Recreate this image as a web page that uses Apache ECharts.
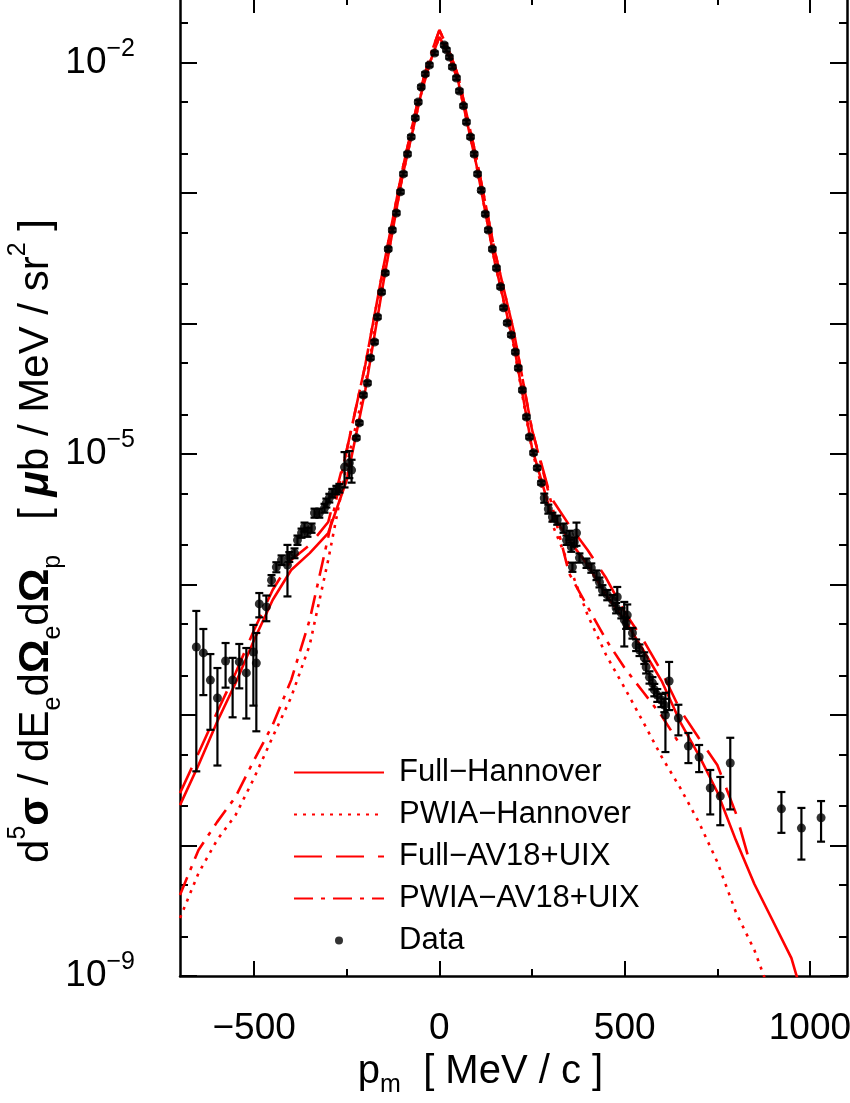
<!DOCTYPE html>
<html><head><meta charset="utf-8">
<script src="https://cdn.jsdelivr.net/npm/echarts@6/dist/echarts.min.js"></script>
<style>html,body{margin:0;padding:0;background:#fff}#c{width:850px;height:1103px}</style>
</head><body><div id="c"></div>
<script>
// ---------- data ----------
const hanX = [-700,-650,-600,-550,-500,-450,-400,-350,-300,-250,-200,-150,-100,-50,-25,0,25,50,100,150,200,250,300,350,400,450,500,550,600,650,700,750,800,850,900,950,980];
const fullHannover = [2.04e-8,4.14e-8,8.83e-8,1.76e-7,3.76e-7,7.6e-7,1.29e-6,1.74e-6,2.48e-6,6.32e-6,3.09e-5,2.15e-4,1.33e-3,5.64e-3,1.01e-2,1.57e-2,1.14e-2,7.35e-3,1.64e-3,2.91e-4,7.10e-5,1.11e-5,3.60e-6,2.19e-6,1.41e-6,8.32e-7,5.35e-7,3.15e-7,1.82e-7,8.83e-8,4.93e-8,2.57e-8,1.10e-8,5.07e-9,2.64e-9,1.37e-9,7.0e-10];

const pwiaHanX = [-700,-650,-600,-550,-500,-450,-400,-350,-300,-250,-200,-150,-100,-50,-25,0,25,50,100,150,200,250,300,350,400,450,500,550,600,650,700,750,800,850,885];
const pwiaHannover = [2.78e-9,6.15e-9,1.10e-8,1.71e-8,3.29e-8,6.78e-8,1.37e-7,3.44e-7,1.54e-6,8.24e-6,3.38e-5,2.23e-4,1.33e-3,5.64e-3,1.01e-2,1.57e-2,1.14e-2,7.35e-3,1.64e-3,2.91e-4,6.84e-5,1.07e-5,3.12e-6,1.41e-6,5.83e-7,2.88e-7,1.61e-7,8.83e-8,4.77e-8,2.76e-8,1.51e-8,7.48e-9,3.09e-9,1.58e-9,8.5e-10];

const fullAvX = [-700,-650,-600,-550,-500,-450,-400,-350,-300,-250,-200,-150,-100,-50,-25,0,25,50,100,150,200,250,300,350,400,450,500,550,600,650,700,750,800,836];
const fullAv18 = [2.52e-8,5.12e-8,1.05e-7,2.10e-7,4.48e-7,9.08e-7,1.54e-6,2.01e-6,3.01e-6,1.07e-5,4.81e-5,2.81e-4,1.50e-3,6.38e-3,1.12e-2,1.77e-2,1.25e-2,8.02e-3,1.85e-3,3.53e-4,8.91e-5,1.53e-5,4.68e-6,2.86e-6,1.84e-6,1.12e-6,6.15e-7,3.76e-7,2.14e-7,1.09e-7,6.67e-8,4.14e-8,1.77e-8,7.74e-9];

const pwiaAvX = [-700,-650,-600,-550,-500,-450,-400,-350,-300,-250,-200,-150,-100,-50,-25,0,25,50,100,150,200,250,300,350,400,450,500,550,600,645];
const pwiaAv18 = [4.18e-9,9.25e-9,1.51e-8,2.36e-8,4.52e-8,8.38e-8,1.85e-7,5.35e-7,2.31e-6,1.07e-5,4.81e-5,2.81e-4,1.50e-3,6.38e-3,1.12e-2,1.77e-2,1.25e-2,8.02e-3,1.85e-3,3.53e-4,8.91e-5,1.53e-5,4.45e-6,1.22e-6,6.73e-7,3.76e-7,2.29e-7,1.50e-7,9.82e-8,6.21e-8];

const dataX = [-656,-637,-618,-599,-577,-558,-540,-521,-502,-494,-486,-467,-453,-440,-426,-410,-405,-391,-383,-372,-364,-356,-345,-337,-324,-310,-305,-297,-289,-278,-270,-256,-243,-237,
  -224,-216,-205,-194,-186,-175,-167,-156,-146,-138,-127,-116,-105,-97,-86,-76,-65,-57,-49,-38,-27,-13,13,19,27,35,46,54,65,73,84,94,103,113,124,132,143,154,165,173,183,194,205,213,224,235,243,254,264,275,
  283,294,305,318,335,343,351,356,359,364,370,378,397,410,424,432,440,453,467,477,480,491,499,504,507,521,531,540,553,558,567,575,580,588,599,607,610,620,645,672,701,731,758,785,923,977,1030];
const dataY = [3.32e-7,2.99e-7,1.85e-7,1.35e-7,2.59e-7,1.85e-7,2.55e-7,2.10e-7,3.04e-7,2.50e-7,7.10e-7,6.73e-7,1.08e-6,1.36e-6,1.54e-6,1.41e-6,1.63e-6,1.74e-6,2.19e-6,2.48e-6,2.76e-6,2.52e-6,2.71e-6,3.53e-6,3.53e-6,3.85e-6,4.22e-6,4.60e-6,5.02e-6,5.30e-6,5.48e-6,7.94e-6,8.53e-6,7.53e-6,
  1.33e-5,1.73e-5,2.83e-5,3.50e-5,5.45e-5,7.21e-5,1.12e-4,1.74e-4,2.44e-4,3.72e-4,5.20e-4,7.03e-4,1.02e-3,1.40e-3,1.99e-3,2.69e-3,3.76e-3,4.98e-3,6.49e-3,8.17e-3,9.57e-3,1.18e-2,1.36e-2,1.25e-2,1.10e-2,9.25e-3,7.60e-3,6.05e-3,4.65e-3,3.50e-3,2.69e-3,1.99e-3,1.40e-3,1.05e-3,6.90e-4,5.20e-4,3.72e-4,2.66e-4,1.91e-4,1.32e-4,1.01e-4,8.17e-5,6.05e-5,4.56e-5,3.09e-5,1.92e-5,1.35e-5,1.02e-5,7.82e-6,6.00e-6,
  4.60e-6,3.79e-6,3.29e-6,3.12e-6,2.71e-6,2.19e-6,2.39e-6,1.94e-6,1.36e-6,2.12e-6,2.48e-6,1.60e-6,1.46e-6,1.34e-6,1.18e-6,1.04e-6,9.08e-7,8.32e-7,7.60e-7,6.61e-7,8.02e-7,6.05e-7,5.35e-7,5.07e-7,5.83e-7,4.25e-7,3.44e-7,3.15e-7,2.74e-7,2.33e-7,1.95e-7,1.76e-7,1.56e-7,1.42e-7,1.30e-7,1.19e-7,1.00e-7,1.82e-7,9.48e-8,5.78e-8,4.77e-8,2.76e-8,2.39e-8,4.29e-8,1.91e-8,1.36e-8,1.63e-8];
const dataErr = [2.95e-7,1.57e-7,1.08e-7,0.94e-7,0.97e-7,0.89e-7,0.95e-7,1.16e-7,1.86e-7,1.75e-7,1.5e-7,1.5e-7,1.0e-7,1.2e-7,1.3e-7,6.0e-7,1.4e-7,1.5e-7,1.8e-7,2.0e-7,2.2e-7,2.0e-7,2.2e-7,2.8e-7,2.8e-7,3.0e-7,3.3e-7,3.5e-7,3.8e-7,4.0e-7,4.2e-7,2.4e-6,2.0e-6,1.5e-6,
  4.0e-7,5.2e-7,8.5e-7,1.05e-6,1.6e-6,2.2e-6,3.4e-6,5.2e-6,7.3e-6,1.1e-5,1.6e-5,2.1e-5,3.1e-5,4.2e-5,6.0e-5,8.1e-5,1.1e-4,1.5e-4,1.9e-4,2.5e-4,2.9e-4,3.5e-4,4.1e-4,3.8e-4,3.3e-4,2.8e-4,2.3e-4,1.8e-4,1.4e-4,1.05e-4,8.1e-5,6.0e-5,4.2e-5,3.2e-5,2.1e-5,1.6e-5,1.1e-5,8.0e-6,5.7e-6,4.0e-6,3.0e-6,2.5e-6,1.8e-6,1.4e-6,0.93e-6,5.8e-7,4.0e-7,3.1e-7,2.4e-7,1.8e-7,
  3.7e-7,3.0e-7,2.6e-7,2.5e-7,2.2e-7,1.8e-7,1.9e-7,1.6e-7,1.1e-7,1.7e-7,5.0e-7,1.3e-7,1.2e-7,1.1e-7,1.0e-7,0.9e-7,0.8e-7,0.75e-7,0.7e-7,0.6e-7,1.55e-7,0.55e-7,2.0e-7,0.5e-7,1.2e-7,0.4e-7,0.35e-7,0.32e-7,0.28e-7,0.25e-7,0.21e-7,0.19e-7,0.17e-7,0.16e-7,0.15e-7,0.14e-7,0.48e-7,0.73e-7,0.25e-7,1.5e-8,1.12e-8,1.03e-8,0.96e-8,2.4e-8,0.66e-8,0.58e-8,0.56e-8];

// ---------- ticks ----------
const xMajorTicks = [-500, 0, 500, 1000];
const xMinorTicks = [-250, 250, 750];
const yDecadeExp = [-9, -8, -7, -6, -5, -4, -3, -2];
const yLabelExp = [-9, -5, -2];
const yMinorMult = [2, 5];

// ---------- chart ----------
const X_MIN = -700, X_MAX = 1100, Y_MIN = 1e-9, Y_MAX = 0.03119;
const LOG_MIN = Math.log10(Y_MIN), LOG_MAX = Math.log10(Y_MAX);
const yMinorExp = [];
yDecadeExp.forEach(n => yMinorMult.forEach(m => { const v = n + Math.log10(m); if (v < LOG_MAX) yMinorExp.push(v); }));

const FONT = '"Liberation Sans", Arial, sans-serif';
const RED = '#ff0000';
const zip = (xs, ys) => xs.map((x, i) => [x, ys[i]]);
const minus = v => v < 0 ? '\u2212' + (-v) : String(v);

function xDeco(pos, ticks, len, showLine) {
  return { type: 'value', position: pos, min: X_MIN, max: X_MAX, gridIndex: 0,
    axisLine: { show: showLine, onZero: false, lineStyle: { color: '#000', width: 2.5 } },
    axisTick: { show: true, inside: true, length: len, customValues: ticks, lineStyle: { color: '#000', width: 2 } },
    axisLabel: { show: false }, splitLine: { show: false } };
}
function yDeco(pos, ticks, len, showLine) {
  return { type: 'value', position: pos, min: LOG_MIN, max: LOG_MAX, gridIndex: 0,
    axisLine: { show: showLine, onZero: false, lineStyle: { color: '#000', width: 2.5 } },
    axisTick: { show: true, inside: true, length: len, customValues: ticks, lineStyle: { color: '#000', width: 2 } },
    axisLabel: { show: false }, splitLine: { show: false } };
}

const xMain = xDeco('bottom', xMajorTicks, 15, true);
xMain.axisLabel = { show: true, customValues: xMajorTicks, formatter: v => minus(v), fontFamily: FONT, fontSize: 37, color: '#000', margin: 34 };
xMain.name = '{a|p}{sub|m}{a|  [ MeV / c ]}';
xMain.nameLocation = 'middle';
xMain.nameGap = 70;
xMain.nameTextStyle = { color: '#000', fontFamily: FONT, padding: [0, 66, 0, 0],
  rich: { a: { fontSize: 40, lineHeight: 52, fontFamily: FONT, color: '#000' },
          sub: { fontSize: 25, lineHeight: 12, verticalAlign: 'bottom', fontFamily: FONT, color: '#000' } } };

const yLog = { type: 'log', logBase: 10, min: Y_MIN, max: Y_MAX, position: 'left', gridIndex: 0,
  axisLine: { show: true, onZero: false, lineStyle: { color: '#000', width: 2.5 } },
  axisTick: { show: false }, axisLabel: { show: false }, splitLine: { show: false }, minorTick: { show: false },
  name: '{m|d}{sup|5}{g|σ}{m| / dE}{sub|e}{m|d}{g|Ω}{sub|e}{m|d}{g|Ω}{sub|p}{m|   [ }{mu|μ}{m|b / MeV / sr}{sup|2}{m| ]}',
  nameLocation: 'middle', nameRotate: 90, nameGap: 114,
  nameTextStyle: { color: '#000', fontFamily: FONT, padding: [0, 108, 0, 0],
    rich: {
      m: { fontSize: 42, lineHeight: 60, fontFamily: FONT, color: '#000' },
      g: { fontSize: 42, lineHeight: 60, fontWeight: 'bold', fontFamily: FONT, color: '#000' },
      mu: { fontSize: 42, lineHeight: 60, fontWeight: 'bold', fontStyle: 'italic', fontFamily: FONT, color: '#000' },
      sup: { fontSize: 25, lineHeight: 12, verticalAlign: 'top', fontFamily: FONT, color: '#000' },
      sub: { fontSize: 25, lineHeight: 12, verticalAlign: 'bottom', fontFamily: FONT, color: '#000' } } } };

const yLabels = yDeco('left', yDecadeExp, 17, false);
yLabels.axisLabel = { show: true, customValues: yLabelExp, margin: 45,
  formatter: v => '{b|10}{s|\u2212' + Math.abs(Math.round(v)) + '}',
  rich: { b: { fontSize: 37, lineHeight: 52, fontFamily: FONT, color: '#000' },
          s: { fontSize: 25, lineHeight: 14, verticalAlign: 'top', fontFamily: FONT, color: '#000' } } };

const lineSeries = (name, xs, ys, type) => ({
  name, type: 'line', xAxisIndex: 0, yAxisIndex: 0, data: zip(xs, ys), symbol: 'none', clip: true,
  lineStyle: { color: RED, width: 2.6, type }, itemStyle: { color: RED }, z: 3 });

const legendNames = ['Full\u2212Hannover', 'PWIA\u2212Hannover', 'Full\u2212AV18+UIX', 'PWIA\u2212AV18+UIX', 'Data'];

const option = {
  animation: false,
  backgroundColor: '#fff',
  grid: { left: 180, right: 3, top: -2, bottom: 127, containLabel: false, outerBoundsMode: 'none' },
  xAxis: [xMain, xDeco('bottom', xMinorTicks, 7, false), xDeco('top', xMajorTicks, 15, true), xDeco('top', xMinorTicks, 7, false)],
  yAxis: [yLog, yLabels, yDeco('left', yMinorExp, 8, false), yDeco('right', yDecadeExp, 17, true), yDeco('right', yMinorExp, 8, false)],
  legend: { orient: 'vertical', left: 288, top: 752, itemWidth: 90, itemHeight: 8, itemGap: 11, selectedMode: false,
    textStyle: { fontFamily: FONT, fontSize: 31, color: '#000', padding: [0, 0, 0, 10] },
    data: legendNames.map(n => n === 'Data' ? { name: n } : { name: n, itemStyle: { opacity: 0 } }) },
  series: [
    lineSeries(legendNames[0], hanX, fullHannover, 'solid'),
    lineSeries(legendNames[1], pwiaHanX, pwiaHannover, [3, 6]),
    lineSeries(legendNames[2], fullAvX, fullAv18, [28, 14]),
    lineSeries(legendNames[3], pwiaAvX, pwiaAv18, [19, 8, 4, 8]),
    { name: 'Errors', type: 'custom', xAxisIndex: 0, yAxisIndex: 0, clip: true, silent: true, z: 4,
      dimensions: ['x', 'y', 'e'], encode: { x: 0, y: 1 },
      data: dataX.map((x, i) => [x, dataY[i], dataErr[i]]),
      renderItem: (params, api) => {
        const x = api.value(0), y = api.value(1), e = api.value(2);
        const hi = api.coord([x, y + e]);
        const lowVal = y - e;
        const lo = api.coord([x, lowVal > 0 ? lowVal : 1e-12]);
        const st = { stroke: '#000', lineWidth: 2.2 };
        const w = 4;
        const ch = [
          { type: 'line', shape: { x1: hi[0], y1: hi[1], x2: lo[0], y2: lo[1] }, style: st },
          { type: 'line', shape: { x1: hi[0] - w, y1: hi[1], x2: hi[0] + w, y2: hi[1] }, style: st } ];
        if (lowVal > 0) ch.push({ type: 'line', shape: { x1: lo[0] - w, y1: lo[1], x2: lo[0] + w, y2: lo[1] }, style: st });
        return { type: 'group', children: ch };
      } },
    { name: 'Data', type: 'scatter', xAxisIndex: 0, yAxisIndex: 0, data: zip(dataX, dataY), symbol: 'circle', symbolSize: 9,
      itemStyle: { color: '#000' }, z: 5 }
  ]
};
const chart = echarts.init(document.getElementById('c'), null, { renderer: 'canvas' });
chart.setOption(option);
</script></body></html>
